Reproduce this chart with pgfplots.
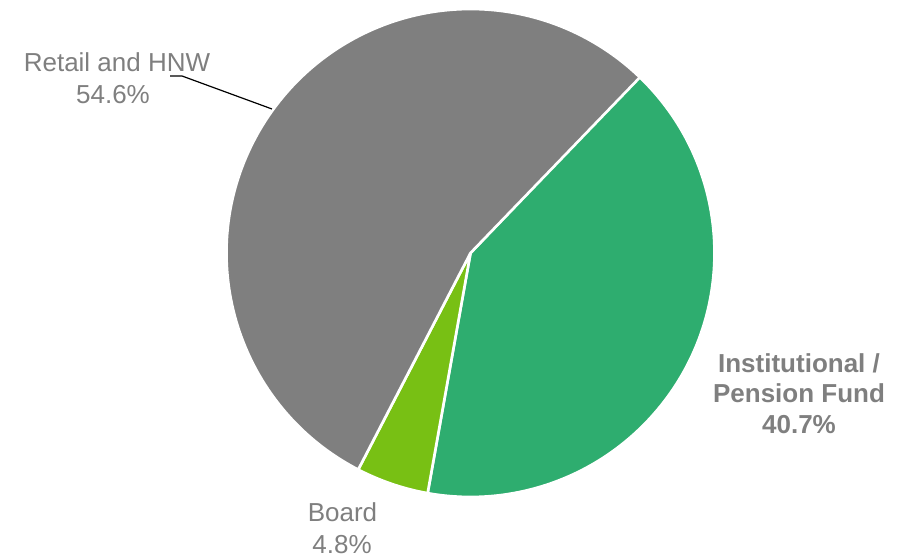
\documentclass[border=0pt]{standalone}
\usepackage{pgfplots}
\pgfplotsset{compat=1.18}
\usepackage{fontspec}
\setmainfont{Liberation Sans}

\definecolor{slicegray}{HTML}{7F7F7F}
\definecolor{slicegreen}{HTML}{2EAD6F}
\definecolor{slicelime}{HTML}{78C014}
\definecolor{labelgray}{HTML}{7F7F7F}

% shares in percent
\def\valInst{40.7}
\def\valBoard{4.8}
\def\valRetail{54.6}

\begin{document}
\begin{tikzpicture}
\useasboundingbox (0,0) rectangle (680.25pt,417pt);
\clip (0,0) rectangle (680.25pt,417pt);
\begin{axis}[
    x=0.75pt, y=0.75pt,
    xmin=0, xmax=907, ymin=0, ymax=556,
    hide axis,
    clip=false,
]
\pgfmathsetmacro{\aA}{46.4}
\pgfmathsetmacro{\aB}{\aA-3.6*\valInst}
\pgfmathsetmacro{\aC}{\aB-3.6*\valBoard}
\pgfmathsetmacro{\aD}{\aC-3.6*\valRetail}
\def\rad{183pt}
\tikzset{slice/.style={draw=white, line width=2pt, line join=round}}
\fill[slicegreen, slice] (axis cs:470.5,303) -- ++(\aA:\rad) arc[start angle=\aA, end angle=\aB, radius=\rad] -- cycle;
\fill[slicelime, slice] (axis cs:470.5,303) -- ++(\aB:\rad) arc[start angle=\aB, end angle=\aC, radius=\rad] -- cycle;
\fill[slicegray, slice] (axis cs:470.5,303) -- ++(\aC:\rad) arc[start angle=\aC, end angle=\aD, radius=\rad] -- cycle;

\draw[black, line width=0.9pt] (axis cs:170,480) -- (axis cs:182,480) -- (axis cs:272,447);

\tikzset{lbl/.style={anchor=base, inner sep=0pt, text=labelgray, font=\fontsize{19.5}{24}\selectfont}}
\node[lbl] at (axis cs:117,484) {Retail and HNW};
\node[lbl] at (axis cs:113,452) {\valRetail\%};
\node[lbl, font=\fontsize{19.5}{24}\selectfont\bfseries] at (axis cs:799,183) {Institutional /};
\node[lbl, font=\fontsize{19.5}{24}\selectfont\bfseries] at (axis cs:799,153) {Pension Fund};
\node[lbl, font=\fontsize{19.5}{24}\selectfont\bfseries] at (axis cs:799,122) {\valInst\%};
\node[lbl] at (axis cs:342.5,34) {Board};
\node[lbl] at (axis cs:342,2) {\valBoard\%};
\end{axis}
\end{tikzpicture}
\end{document}
